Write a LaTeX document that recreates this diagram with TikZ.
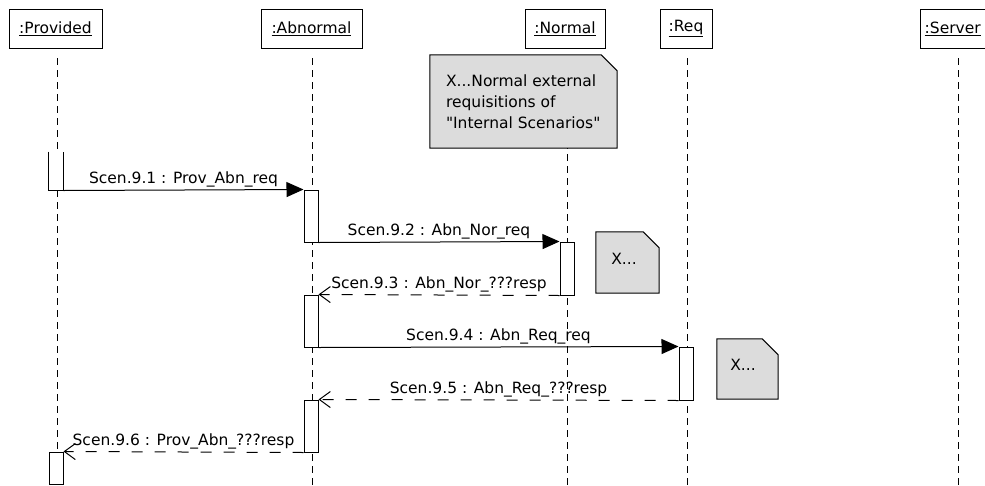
\documentclass[tikz,border=0pt]{standalone}
\usepackage{fontspec}
\setmainfont{DejaVu Sans}
\usetikzlibrary{arrows.meta}
\definecolor{notegray}{HTML}{DCDCDC}
\begin{document}
\begin{tikzpicture}[x=1pt,y=-1pt,
  font=\fontsize{15.5}{21}\selectfont,
  head/.style={draw, line width=1pt, minimum height=39pt, inner sep=0pt},
  life/.style={line width=0.9pt, dash pattern=on 7pt off 5pt},
  act/.style={draw, fill=white, line width=1pt, minimum width=14pt, inner sep=0pt},
  call/.style={line width=1pt, -{Triangle[length=17pt,width=15pt]}},
  reply/.style={line width=1pt, dash pattern=on 11pt off 12pt,
    -{Straight Barb[length=11pt,width=16pt,line width=1pt]}},
  lbl/.style={above=2pt, inner sep=0pt},
  notebox/.style={inner sep=0pt},
  noteline/.style={draw, line width=1pt, fill=notegray}]
\useasboundingbox (0,0) rectangle (985,485);
\clip (0,0) rectangle (985,485);

% object heads
\node[head, minimum width=93pt]  (pv) at (55.5,28.5)  {\underline{:Provided}};
\node[head, minimum width=101pt] (ab) at (311.5,28.5) {\underline{:Abnormal}};
\node[head, minimum width=80pt]  (nm) at (565,28.5)   {\underline{:Normal}};
\node[head, minimum width=52pt]  (rq) at (686,28.5)   {\underline{:Req}};
\node[head, minimum width=78pt, anchor=west] (sv) at (920,28.5) {};
\node[anchor=west, inner sep=0pt] (svt) at (924.5,28.5) {\underline{:Server}};

% lifelines
\foreach \h/\x in {pv/57, ab/312, nm/567, rq/687, sv/958} {
  \coordinate (\h-top) at (\x,58);
  \coordinate (\h-end) at (\x,490);
  \draw[life] (\h-top) -- (\h-end);
}

% comment notes
\node[notebox, minimum width=187pt, minimum height=93pt] (nb) at (523.5,101.5) {};
\draw[noteline] (nb.north west) -- ([xshift=-16pt]nb.north east)
  -- ([yshift=-16pt]nb.north east) -- (nb.south east) -- (nb.south west) -- cycle;
\node[anchor=north west, align=left, inner sep=0pt] (nbt)
  at ([xshift=16pt,yshift=-20pt]nb.north west)
  {X...Normal external\\requisitions of\\\textquotedbl Internal Scenarios\textquotedbl};

\node[notebox, minimum width=63pt, minimum height=61pt] (n1box) at (627.5,262.5) {};
\draw[noteline] (n1box.north west) -- ([xshift=-16pt]n1box.north east)
  -- ([yshift=-16pt]n1box.north east) -- (n1box.south east) -- (n1box.south west) -- cycle;
\node[inner sep=0pt] (n1t) at (624,259) {X...};

\node[notebox, minimum width=61pt, minimum height=60pt] (n2box) at (747.5,369) {};
\draw[noteline] (n2box.north west) -- ([xshift=-16pt]n2box.north east)
  -- ([yshift=-16pt]n2box.north east) -- (n2box.south east) -- (n2box.south west) -- cycle;
\node[inner sep=0pt] (n2t) at (743,365) {X...};

% activations
\node[act, minimum height=38pt, draw=none] (p1) at (56,171) {};
\draw[line width=1pt] (p1.north west) -- (p1.south west) -- (p1.south east) -- (p1.north east);
\node[act, minimum height=52pt] (a1) at (311,216) {};
\node[act, minimum height=53pt] (n1) at (567,268.5) {};
\node[act, minimum height=52pt] (a2) at (311,321) {};
\node[act, minimum height=53pt] (r1) at (686,373.5) {};
\node[act, minimum height=52pt] (a3) at (311,426) {};
\node[act, minimum height=32pt] (p2) at (56,468) {};

% messages
\draw[call] (p1.south east) -- (a1.north west)
  node[lbl, midway] {Scen.9.1 : Prov\_Abn\_req};
\draw[call] (a1.south east) -- (n1.north west)
  node[lbl, midway] {Scen.9.2 : Abn\_Nor\_req};
\draw[reply] (n1.south west) -- (a2.north east)
  node[lbl, midway] {Scen.9.3 : Abn\_Nor\_???resp};
\draw[call] (a2.south east) -- (r1.north west)
  node[lbl, midway] {Scen.9.4 : Abn\_Req\_req};
\draw[reply] (r1.south west) -- (a3.north east)
  node[lbl, midway] {Scen.9.5 : Abn\_Req\_???resp};
\draw[reply] (a3.south west) -- (p2.north east)
  node[lbl, midway] {Scen.9.6 : Prov\_Abn\_???resp};
\end{tikzpicture}
\end{document}
